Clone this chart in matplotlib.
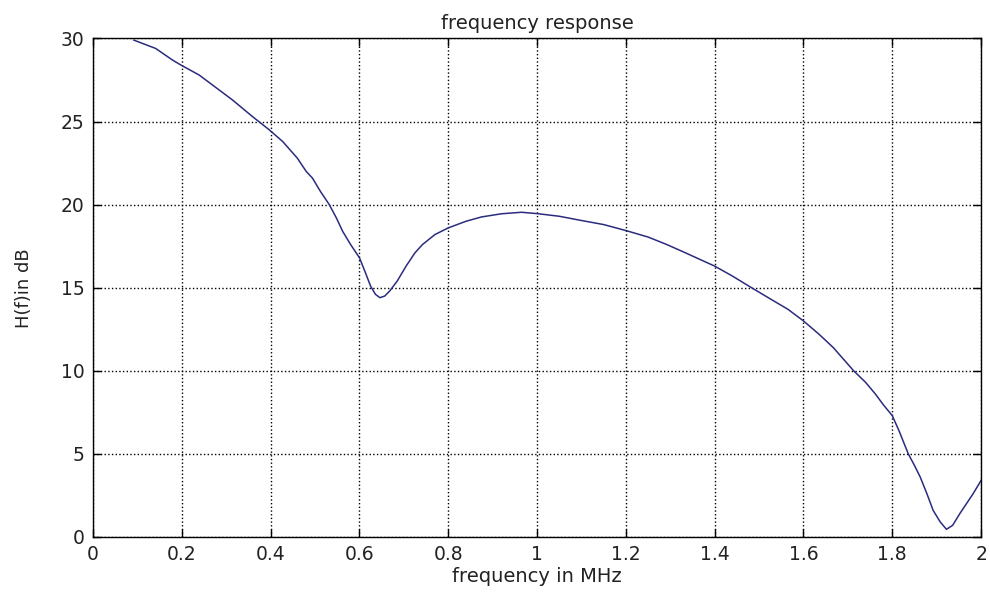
import numpy as np
import matplotlib.pyplot as plt

# values
freq_mhz = [0.092, 0.141, 0.179, 0.198, 0.239, 0.314, 0.359, 0.397, 0.427, 0.46,
            0.48, 0.494, 0.512, 0.532, 0.548, 0.562, 0.58, 0.60, 0.612, 0.625,
            0.636, 0.646, 0.657, 0.668, 0.685, 0.705, 0.725, 0.742, 0.77, 0.80,
            0.84, 0.875, 0.92, 0.965, 1.0, 1.05, 1.097, 1.15, 1.2, 1.25,
            1.292, 1.33, 1.367, 1.40, 1.44, 1.483, 1.527, 1.565, 1.60, 1.635,
            1.667, 1.69, 1.713, 1.74, 1.762, 1.78, 1.80, 1.815, 1.836, 1.85,
            1.863, 1.878, 1.892, 1.908, 1.922, 1.936, 1.952, 1.967, 1.982, 2.0]
h_db = [29.9, 29.4, 28.7, 28.4, 27.8, 26.3, 25.3, 24.5, 23.8, 22.8,
        22.0, 21.6, 20.8, 20.0, 19.2, 18.4, 17.6, 16.8, 16.0, 15.1,
        14.6, 14.4, 14.5, 14.8, 15.4, 16.3, 17.1, 17.6, 18.2, 18.6,
        19.0, 19.26, 19.45, 19.54, 19.46, 19.3, 19.06, 18.8, 18.44, 18.05,
        17.6, 17.15, 16.7, 16.3, 15.7, 15.0, 14.3, 13.7, 13.0, 12.2,
        11.4, 10.7, 10.0, 9.3, 8.6, 7.95, 7.3, 6.4, 5.0, 4.3,
        3.6, 2.6, 1.6, 0.9, 0.46, 0.7, 1.4, 2.0, 2.6, 3.4]

plt.rcParams['font.family'] = ['DejaVu Sans']

fig = plt.figure(figsize=(9.9, 5.92), dpi=100)
ax = fig.add_axes([0.094, 0.093, 0.897, 0.842])

ax.plot(freq_mhz, h_db, color='#2b2b7f', lw=1.1)

ax.set_xlim(0, 2)
ax.set_ylim(0, 30)
ax.set_xticks(np.arange(0, 2.01, 0.2))
ax.set_xticklabels(['0', '0.2', '0.4', '0.6', '0.8', '1', '1.2', '1.4', '1.6', '1.8', '2'])
ax.set_yticks(np.arange(0, 31, 5))
ax.tick_params(direction='in', length=6, width=1, top=True, right=True,
               labelsize=13.5, pad=6, labelcolor='#222222')
ax.grid(True, color='black', linestyle=':', linewidth=1)
for s in ax.spines.values():
    s.set_linewidth(1)

ax.set_title('frequency response', fontsize=14, pad=7, color='#222222')
ax.set_xlabel('frequency in MHz', fontsize=14, labelpad=2, color='#222222')
ax.set_ylabel('H(f)in dB', fontsize=13, labelpad=20, color='#222222')

fig.savefig('out.png', dpi=100)
